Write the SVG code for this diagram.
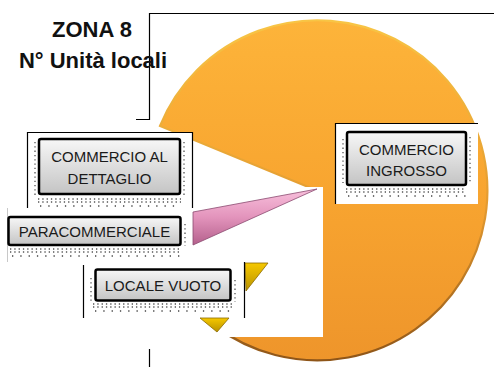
<svg xmlns="http://www.w3.org/2000/svg" width="494" height="367" viewBox="0 0 494 367">
<defs>
<linearGradient id="gOr" x1="0" y1="0" x2="0" y2="1">
<stop offset="0" stop-color="#fdb43a"/>
<stop offset="0.5" stop-color="#f8a530"/>
<stop offset="1" stop-color="#ee952b"/>
</linearGradient>
<linearGradient id="gOrRim" x1="0" y1="0" x2="0" y2="1">
<stop offset="0" stop-color="#f8c545"/>
<stop offset="0.55" stop-color="#e39a30"/>
<stop offset="1" stop-color="#8e5518"/>
</linearGradient>
<linearGradient id="gPk" x1="0" y1="0" x2="0" y2="1">
<stop offset="0" stop-color="#f8c0dc"/>
<stop offset="0.5" stop-color="#e394bc"/>
<stop offset="1" stop-color="#b4608c"/>
</linearGradient>
<linearGradient id="gYe" x1="0" y1="0" x2="0" y2="1">
<stop offset="0" stop-color="#f6c800"/>
<stop offset="1" stop-color="#b89200"/>
</linearGradient>
<linearGradient id="gBox" x1="0" y1="0" x2="0" y2="1">
<stop offset="0" stop-color="#f7f7f7"/>
<stop offset="1" stop-color="#c4c4c4"/>
</linearGradient>
<style>
.title{font-family:"Liberation Sans",Arial,sans-serif;font-weight:bold;font-size:22px;fill:#111;text-anchor:middle}
.lbl{font-family:"Liberation Sans",Arial,sans-serif;font-size:15px;fill:#1a1a1a;text-anchor:middle}
.box{fill:url(#gBox);stroke:#000;stroke-width:2.5}
.dots{fill:none;stroke:#555;stroke-width:1.3;stroke-dasharray:1.3 3}
.dots2{fill:none;stroke:#444;stroke-width:1.3;stroke-dasharray:1.3 7}
.frame{fill:none;stroke:#000;stroke-width:1.2}
.white{fill:#fff}
</style>
</defs>
<rect width="494" height="367" fill="#fff"/>

<g id="pie">
<path d="M318,191 L160,126 A170,170 0 1,1 215,326 Z" fill="url(#gOr)" stroke="url(#gOrRim)" stroke-width="2.2"/>
</g>

<g id="covers">
<rect class="white" x="193" y="187" width="130" height="150"/>
<rect class="white" x="335" y="123" width="143" height="81"/>
<rect class="white" x="27" y="132" width="166" height="76"/>
<rect class="white" x="7" y="208" width="186" height="54"/>
<rect class="white" x="83" y="262" width="161" height="56"/>
</g>

<g id="slices">
<path d="M317,189 L193,212 L193,245 Z" fill="url(#gPk)" stroke="#8a4a70" stroke-width="0.8"/>
<path d="M245,263 L268,263 L246,291 Z" fill="url(#gYe)" stroke="#8a6a00" stroke-width="0.8"/>
<path d="M200,318 L229,318 L217,332 Z" fill="url(#gYe)" stroke="#8a6a00" stroke-width="0.8"/>
</g>

<g id="connectors">
<path class="frame" d="M149,13.5 H494 M149.5,13 V120 M136,119.5 H150 M149.5,349 V367"/>
</g>

<g id="title">
<text class="title" x="92" y="37">ZONA 8</text>
<text class="title" x="93" y="68">N° Unità locali</text>
</g>

<g id="node-dettaglio">
<path class="frame" d="M27.5,208 V132.5 H192.5 V208"/>
<path class="dots" d="M35,142 V196 M184,142 V196 M38,199 H181 M38,202 H181"/>
<path class="dots2" d="M40,206 H181"/>
<rect class="box" x="39" y="139" width="141" height="55" rx="2"/>
<text class="lbl" x="109.5" y="162">COMMERCIO AL</text>
<text class="lbl" x="109.5" y="184">DETTAGLIO</text>
</g>

<g id="node-paracommerciale">
<path d="M7.5,208 V262" fill="none" stroke="#c8c8c8" stroke-width="1"/>
<path class="dots" d="M185,224 V246 M10,249 H181 M10,252 H181"/>
<path class="dots2" d="M12,256 H181"/>
<rect class="box" x="8.5" y="217" width="172" height="28" rx="2"/>
<text class="lbl" x="94.5" y="237">PARACOMMERCIALE</text>
</g>

<g id="node-locale-vuoto">
<path class="frame" d="M83.5,265 V318 M244.5,262 V318"/>
<path class="dots" d="M91,278 V302 M235,280 V302 M93,304 H232 M93,307 H232"/>
<path class="dots2" d="M95,311 H232"/>
<rect class="box" x="95.5" y="269.5" width="135" height="31" rx="2"/>
<text class="lbl" x="163" y="291">LOCALE VUOTO</text>
</g>

<g id="node-ingrosso">
<path class="frame" d="M335.5,204 V123.5 H478"/>
<path class="dots" d="M343,139 V183 M470,137 V183 M346,189 H466 M346,192 H466"/>
<path class="dots2" d="M348,196 H466"/>
<rect class="box" x="347" y="132" width="119" height="53" rx="2"/>
<text class="lbl" x="406.5" y="155">COMMERCIO</text>
<text class="lbl" x="406.5" y="176">INGROSSO</text>
</g>
</svg>
